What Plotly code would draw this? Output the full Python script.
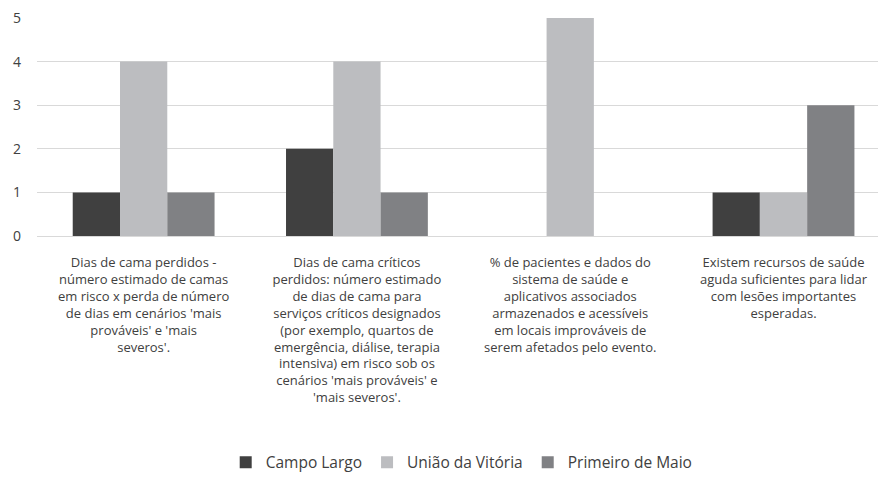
import plotly.graph_objects as go

categories = [
    "Dias de cama perdidos -<br>número estimado de camas<br>em risco x perda de número<br>de dias em cenários 'mais<br>prováveis' e 'mais<br>severos'.",
    "Dias de cama críticos<br>perdidos: número estimado<br>de dias de cama para<br>serviços críticos designados<br>(por exemplo, quartos de<br>emergência, diálise, terapia<br>intensiva) em risco sob os<br>cenários 'mais prováveis' e<br>'mais severos'.",
    "% de pacientes e dados do<br>sistema de saúde e<br>aplicativos associados<br>armazenados e acessíveis<br>em locais improváveis de<br>serem afetados pelo evento.",
    "Existem recursos de saúde<br>aguda suficientes para lidar<br>com lesões importantes<br>esperadas.",
]
campo_largo = [1, 2, 0, 1]
uniao_vitoria = [4, 4, 5, 1]
primeiro_maio = [1, 1, 0, 3]

series = [
    ("Campo Largo", campo_largo, "#404040"),
    ("União da Vitória", uniao_vitoria, "#bcbdc0"),
    ("Primeiro de Maio", primeiro_maio, "#808184"),
]

x_idx = list(range(len(categories)))
fig = go.Figure()
for name, vals, col in series:
    fig.add_trace(go.Bar(x=x_idx, y=vals, name=name, marker_color=col,
                         marker_line_width=0))

fig.update_layout(
    width=878, height=488,
    margin=dict(l=37, r=0, t=18, b=252),
    paper_bgcolor="white", plot_bgcolor="white",
    barmode="group", bargap=0.335, bargroupgap=0,
    font=dict(family="Open Sans, sans-serif", color="#404040", size=13),
    showlegend=True,
    legend=dict(orientation="h", x=0.505, xanchor="center", y=-1.04, yanchor="middle",
                font=dict(size=15.5), itemwidth=30, traceorder="normal"),
)
fig.update_xaxes(tickmode="array", tickvals=x_idx, ticktext=categories,
                 range=[-0.5, 3.443], showgrid=False, showline=False, ticks="",
                 tickangle=0, tickfont=dict(size=13), ticklabelstandoff=17)
fig.update_yaxes(range=[0, 5], dtick=1, showgrid=True, gridcolor="#d9d9d9",
                 gridwidth=1, zeroline=True, zerolinecolor="#d9d9d9", zerolinewidth=1,
                 showline=False, ticks="", tickfont=dict(size=14), ticklabelstandoff=15)
fig.write_html("out.html", config={"displayModeBar": False},
               post_script="document.body.style.margin='0';")
